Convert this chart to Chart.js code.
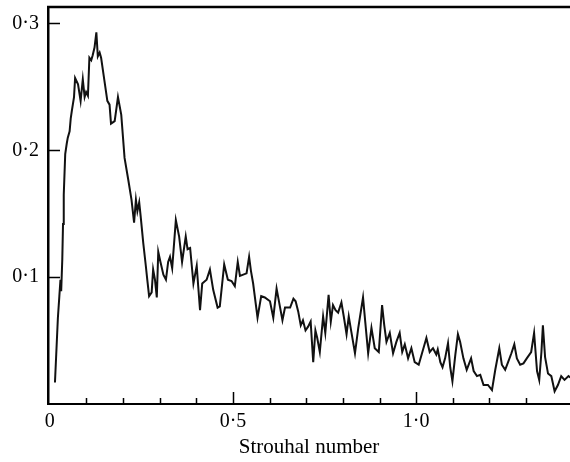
<!DOCTYPE html>
<html>
<head>
<meta charset="utf-8">
<script src="https://cdn.jsdelivr.net/npm/chart.js@4.4.0/dist/chart.umd.min.js"></script>
<style>
  html, body { margin: 0; padding: 0; background: #fff; }
  canvas { display: block; }
</style>
</head>
<body>
<canvas id="spectrum" width="570" height="462"></canvas>
<script>
// Strouhal number (x) and spectral amplitude (y)
const strouhal = [
  0.014, 0.022, 0.026, 0.029, 0.031, 0.034, 0.036, 0.038, 0.042, 0.046,
  0.049, 0.054, 0.057, 0.060, 0.066, 0.069, 0.077, 0.084, 0.090, 0.095,
  0.099, 0.104, 0.108, 0.113, 0.117, 0.122, 0.127, 0.131, 0.136, 0.140,
  0.149, 0.157, 0.163, 0.167, 0.177, 0.186, 0.195, 0.204, 0.214, 0.223,
  0.230, 0.235, 0.239, 0.244, 0.248, 0.255, 0.262, 0.266, 0.271, 0.278,
  0.282, 0.287, 0.292, 0.296, 0.302, 0.310, 0.317, 0.323, 0.328, 0.334,
  0.344, 0.353, 0.361, 0.371, 0.376, 0.383, 0.392, 0.401, 0.405, 0.410,
  0.416, 0.428, 0.437, 0.446, 0.458, 0.464, 0.476, 0.486, 0.496, 0.505,
  0.513, 0.519, 0.528, 0.537, 0.544, 0.549, 0.555, 0.567, 0.577, 0.587,
  0.601, 0.610, 0.619, 0.628, 0.635, 0.642, 0.656, 0.665, 0.671, 0.678,
  0.685, 0.691, 0.698, 0.705, 0.712, 0.719, 0.725, 0.730, 0.737, 0.746,
  0.752, 0.761, 0.767, 0.773, 0.780, 0.787, 0.796, 0.803, 0.810, 0.816,
  0.823, 0.833, 0.842, 0.855, 0.861, 0.869, 0.878, 0.887, 0.898, 0.907,
  0.913, 0.919, 0.928, 0.937, 0.946, 0.955, 0.962, 0.969, 0.978, 0.987,
  0.996, 1.007, 1.016, 1.028, 1.037, 1.046, 1.055, 1.059, 1.066, 1.072,
  1.079, 1.087, 1.093, 1.099, 1.107, 1.114, 1.120, 1.129, 1.138, 1.150,
  1.157, 1.166, 1.175, 1.184, 1.196, 1.207, 1.216, 1.227, 1.234, 1.243,
  1.251, 1.260, 1.268, 1.275, 1.284, 1.293, 1.302, 1.314, 1.322, 1.330,
  1.336, 1.342, 1.346, 1.352, 1.360, 1.369, 1.378, 1.387, 1.396, 1.405,
  1.416, 1.421
];

const amplitude = [
  0.017, 0.068, 0.085, 0.098, 0.089, 0.114, 0.142, 0.165, 0.197, 0.205,
  0.210, 0.215, 0.225, 0.231, 0.242, 0.257, 0.252, 0.239, 0.256, 0.242,
  0.246, 0.243, 0.273, 0.271, 0.275, 0.281, 0.293, 0.274, 0.277, 0.273,
  0.255, 0.239, 0.236, 0.221, 0.223, 0.242, 0.228, 0.194, 0.177, 0.161,
  0.143, 0.161, 0.152, 0.159, 0.148, 0.127, 0.109, 0.098, 0.085, 0.088,
  0.106, 0.098, 0.084, 0.120, 0.112, 0.102, 0.098, 0.112, 0.116, 0.107,
  0.145, 0.132, 0.112, 0.132, 0.122, 0.123, 0.095, 0.109, 0.093, 0.074,
  0.095, 0.098, 0.106, 0.090, 0.076, 0.077, 0.110, 0.098, 0.097, 0.093,
  0.112, 0.101, 0.102, 0.103, 0.116, 0.105, 0.095, 0.068, 0.085, 0.084,
  0.081, 0.068, 0.091, 0.077, 0.066, 0.076, 0.076, 0.083, 0.081, 0.073,
  0.062, 0.066, 0.058, 0.061, 0.065, 0.033, 0.058, 0.052, 0.041, 0.069,
  0.056, 0.086, 0.065, 0.078, 0.074, 0.072, 0.080, 0.068, 0.055, 0.069,
  0.057, 0.040, 0.060, 0.084, 0.065, 0.040, 0.060, 0.044, 0.041, 0.078,
  0.062, 0.049, 0.056, 0.040, 0.049, 0.056, 0.041, 0.047, 0.036, 0.044,
  0.033, 0.031, 0.040, 0.052, 0.041, 0.044, 0.039, 0.043, 0.033, 0.029,
  0.036, 0.048, 0.029, 0.018, 0.039, 0.055, 0.049, 0.036, 0.027, 0.036,
  0.026, 0.022, 0.023, 0.015, 0.015, 0.011, 0.027, 0.044, 0.031, 0.027,
  0.033, 0.040, 0.047, 0.036, 0.031, 0.032, 0.036, 0.041, 0.056, 0.026,
  0.019, 0.041, 0.062, 0.037, 0.024, 0.022, 0.010, 0.015, 0.022, 0.019,
  0.022, 0.021
];

const xTickValues = [0, 0.5, 1.0];
const xMinorTicks = [0.1, 0.2, 0.3, 0.4, 0.6, 0.7, 0.8, 0.9, 1.1, 1.2, 1.3];
const yTickValues = [0.1, 0.2, 0.3];

const serif = "'Liberation Serif', 'DejaVu Serif', serif";

// "0·5" style labels with a raised decimal point
function fmt(v) {
  return v === 0 ? "0" : v.toFixed(1).replace(".", "\u00b7");
}

// top border line plus tick marks pointing into the plot
const frame = {
  id: "frame",
  afterDraw(chart) {
    const { ctx, chartArea } = chart;
    const xs = chart.scales.x;
    const ys = chart.scales.y;
    ctx.save();
    ctx.strokeStyle = "#000";
    ctx.lineWidth = 2.5;
    ctx.beginPath();
    ctx.moveTo(chartArea.left - 1, chartArea.top);
    ctx.lineTo(chartArea.right, chartArea.top);
    ctx.stroke();

    ctx.lineWidth = 1.5;
    ctx.beginPath();
    xMinorTicks.forEach((v) => {
      const px = Math.round(xs.getPixelForValue(v)) + 0.5;
      ctx.moveTo(px, chartArea.bottom);
      ctx.lineTo(px, chartArea.bottom - 6);
    });
    xTickValues.slice(1).forEach((v) => {
      const px = Math.round(xs.getPixelForValue(v)) + 0.5;
      ctx.moveTo(px, chartArea.bottom);
      ctx.lineTo(px, chartArea.bottom - 12);
    });
    yTickValues.forEach((v) => {
      const py = Math.round(ys.getPixelForValue(v)) + 0.5;
      ctx.moveTo(chartArea.left, py);
      ctx.lineTo(chartArea.left + 12, py);
    });
    ctx.stroke();
    ctx.restore();
  }
};

const points = strouhal.map((s, i) => ({ x: s, y: amplitude[i] }));

new Chart(document.getElementById("spectrum"), {
  type: "line",
  data: {
    datasets: [{
      data: points,
      borderColor: "#111",
      borderWidth: 2,
      pointRadius: 0,
      tension: 0,
      fill: false
    }]
  },
  options: {
    responsive: false,
    animation: false,
    devicePixelRatio: 1,
    layout: { padding: { top: 7, right: 0, left: 0, bottom: 0 } },
    plugins: { legend: { display: false }, tooltip: { enabled: false } },
    scales: {
      x: {
        type: "linear",
        min: -0.005,
        max: 1.42,
        afterBuildTicks: (scale) => { scale.ticks = xTickValues.map((v) => ({ value: v })); },
        afterFit: (scale) => {
          scale.height = 58;
          scale.paddingLeft = 0;
          scale.paddingRight = 0;
        },
        ticks: {
          callback: fmt,
          color: "#000",
          padding: 6,
          maxRotation: 0,
          autoSkip: false,
          font: { family: serif, size: 20 }
        },
        grid: { drawOnChartArea: false, drawTicks: false },
        border: { display: true, color: "#000", width: 2 },
        title: {
          display: true,
          text: "Strouhal number",
          color: "#000",
          font: { family: serif, size: 21 },
          padding: { top: 0, bottom: 2 }
        }
      },
      y: {
        min: 0,
        max: 0.313,
        afterBuildTicks: (scale) => { scale.ticks = yTickValues.map((v) => ({ value: v })); },
        afterFit: (scale) => {
          scale.width = 48;
          scale.paddingTop = 0;
          scale.paddingBottom = 0;
        },
        ticks: {
          callback: fmt,
          color: "#000",
          padding: 9,
          font: { family: serif, size: 20 }
        },
        grid: { drawOnChartArea: false, drawTicks: false },
        border: { display: true, color: "#000", width: 2.5 }
      }
    }
  },
  plugins: [frame]
});
</script>
</body>
</html>
